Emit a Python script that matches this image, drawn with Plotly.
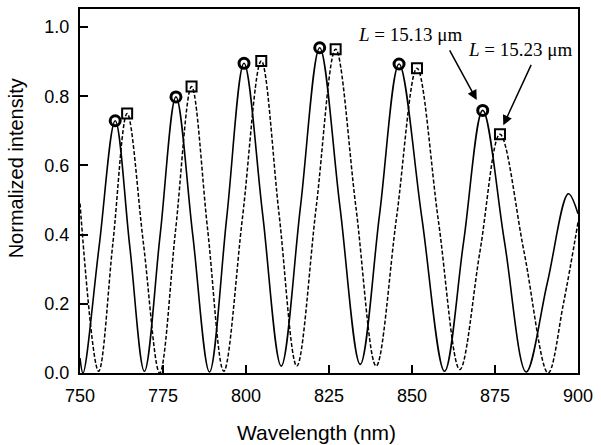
import plotly.graph_objects as go

# Solid curve, L = 15.13 um (wavelength nm, normalized intensity)
wl_a = [750.0, 750.9, 755.75, 760.6, 765.0, 769.4, 774.15, 778.9, 783.95, 789.0,
        794.2, 799.4, 805.0, 810.6, 816.4, 822.2, 828.3, 834.4, 840.25, 846.1,
        852.95, 859.8, 865.55, 871.3, 877.85, 884.4, 890.75, 897.1, 900.0]
int_a = [0.043, 0.0, 0.365, 0.729, 0.365, 0.005, 0.40, 0.798, 0.40, 0.003,
         0.45, 0.895, 0.46, 0.02, 0.48, 0.940, 0.48, 0.025, 0.46, 0.893,
         0.45, 0.005, 0.38, 0.759, 0.38, 0.003, 0.26, 0.518, 0.46]

# Dashed curve, L = 15.23 um
wl_b = [750.0, 755.6, 759.9, 764.2, 769.1, 774.0, 778.8, 783.6, 788.45, 793.3,
        798.95, 804.6, 809.95, 815.3, 821.15, 827.0, 833.1, 839.2, 845.35, 851.5,
        857.95, 864.4, 870.45, 876.5, 883.75, 891.0, 895.6, 900.0]
int_b = [0.49, 0.005, 0.375, 0.750, 0.375, 0.0, 0.414, 0.828, 0.414, 0.005,
         0.45, 0.902, 0.46, 0.02, 0.48, 0.936, 0.48, 0.02, 0.45, 0.881,
         0.44, 0.01, 0.35, 0.690, 0.35, 0.0, 0.20, 0.435]

# Peak markers
peak_wl_a = [760.6, 778.9, 799.4, 822.2, 846.1, 871.3]
peak_int_a = [0.729, 0.798, 0.895, 0.940, 0.893, 0.759]
peak_wl_b = [764.2, 783.6, 804.6, 827.0, 851.5, 876.5]
peak_int_b = [0.750, 0.828, 0.902, 0.936, 0.881, 0.690]

x_ticks = [750, 775, 800, 825, 850, 875, 900]
y_ticks = [0.0, 0.2, 0.4, 0.6, 0.8, 1.0]

fig = go.Figure()
fig.add_trace(go.Scatter(x=wl_a, y=int_a, mode="lines",
                         line=dict(color="black", width=1.6, shape="spline", smoothing=1.0),
                         showlegend=False))
fig.add_trace(go.Scatter(x=wl_b, y=int_b, mode="lines",
                         line=dict(color="black", width=1.5, dash="4px,2px", shape="spline", smoothing=1.0),
                         showlegend=False))
fig.add_trace(go.Scatter(x=peak_wl_a, y=peak_int_a, mode="markers",
                         marker=dict(symbol="circle-open", size=10, color="black",
                                     line=dict(color="black", width=3)),
                         showlegend=False))
fig.add_trace(go.Scatter(x=peak_wl_b, y=peak_int_b, mode="markers",
                         marker=dict(symbol="square-open", size=10, color="black",
                                     line=dict(color="black", width=2)),
                         showlegend=False))

tick_font = dict(family="Liberation Sans, Arial", size=18, color="black")
serif = dict(family="Liberation Serif, Times New Roman", size=19, color="black")

fig.update_layout(
    width=601, height=445,
    margin=dict(l=80, r=23, t=7, b=72),
    paper_bgcolor="white", plot_bgcolor="white",
    xaxis=dict(range=[750, 900], tickvals=x_ticks, ticktext=[str(v) for v in x_ticks],
               ticks="inside", ticklen=8, tickwidth=1.5, tickcolor="black",
               showline=True, linecolor="black", linewidth=2, mirror=True,
               showgrid=False, zeroline=False, tickfont=tick_font,
               ticklabelstandoff=5),
    yaxis=dict(range=[0, 1.052], tickvals=y_ticks, ticktext=[f"{v:.1f}" for v in y_ticks],
               ticks="inside", ticklen=8, tickwidth=1.5, tickcolor="black",
               showline=True, linecolor="black", linewidth=2, mirror=True,
               showgrid=False, zeroline=False, tickfont=tick_font,
               ticklabelstandoff=5),
    annotations=[
        dict(text="Wavelength (nm)", xref="paper", yref="paper", x=0.475, y=-0.164,
             showarrow=False, xanchor="center", yanchor="middle",
             font=dict(family="Liberation Sans, Arial", size=21, color="black")),
        dict(text="Normalized intensity", xref="paper", yref="paper", x=-0.128, y=0.563,
             showarrow=False, xanchor="center", yanchor="middle", textangle=-90,
             font=dict(family="Liberation Sans, Arial", size=20, color="black")),
        dict(text="<i>L</i> = 15.13 μm", xref="x", yref="y", x=849.5, y=0.977,
             showarrow=False, xanchor="center", yanchor="middle", font=serif),
        dict(text="<i>L</i> = 15.23 μm", xref="x", yref="y", x=882.4, y=0.934,
             showarrow=False, xanchor="center", yanchor="middle", font=serif),
        dict(text="", xref="x", yref="y", x=869.5, y=0.789, axref="x", ayref="y",
             ax=861.1, ay=0.937, showarrow=True, arrowhead=2, arrowsize=1.3,
             arrowwidth=1.5, arrowcolor="black", standoff=0),
        dict(text="", xref="x", yref="y", x=877.5, y=0.716, axref="x", ayref="y",
             ax=886.1, ay=0.895, showarrow=True, arrowhead=2, arrowsize=1.3,
             arrowwidth=1.5, arrowcolor="black", standoff=0),
    ],
)

fig.write_html("out.html", config={"displayModeBar": False},
               post_script="document.body.style.margin='0';document.body.style.overflow='hidden';")
